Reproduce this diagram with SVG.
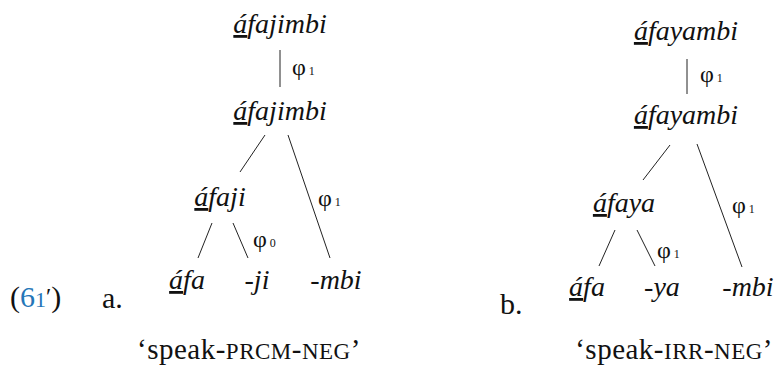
<svg xmlns="http://www.w3.org/2000/svg" width="776" height="371" viewBox="0 0 776 371">
<style>
.w{font-family:"Liberation Serif","DejaVu Serif",serif;font-style:italic;font-size:28px;fill:#111;text-anchor:middle}
.u{text-decoration:underline;text-decoration-thickness:1px;text-underline-offset:2px}
.p{font-family:"Liberation Serif",serif;font-size:24px;fill:#111}
.s{font-size:12px}
.t{font-family:"Liberation Serif",serif;font-size:30px;fill:#111}
.g{font-family:"Liberation Serif",serif;font-size:29px;fill:#111;letter-spacing:0.5px}
.sc{font-size:23px}
.e{stroke:#222;stroke-width:1;fill:none}
</style>
<g id="label">
<text class="t" x="10" y="307">(<tspan fill="#2476b8">6<tspan font-size="22">1</tspan></tspan><tspan font-size="24" dy="-3">′</tspan><tspan dy="3">)</tspan></text>
<text class="t" x="102" y="308">a.</text>
<text class="t" x="500" y="314">b.</text>
</g>
<g id="edges">
<line class="e" x1="280" y1="50" x2="280" y2="87"/>
<line class="e" x1="265" y1="135" x2="240" y2="172"/>
<line class="e" x1="288" y1="135" x2="330" y2="258"/>
<line class="e" x1="212" y1="223" x2="198" y2="258"/>
<line class="e" x1="233" y1="223" x2="248" y2="258"/>
<line class="e" x1="687" y1="59" x2="687" y2="94"/>
<line class="e" x1="670" y1="145" x2="643" y2="180"/>
<line class="e" x1="697" y1="144" x2="742" y2="267"/>
<line class="e" x1="615" y1="230" x2="599" y2="266"/>
<line class="e" x1="637" y1="230" x2="655" y2="266"/>
</g>
<g id="edge-labels">
<text class="p" x="292" y="75">φ<tspan class="s" dx="3">1</tspan></text>
<text class="p" x="318" y="206">φ<tspan class="s" dx="3">1</tspan></text>
<text class="p" x="253" y="247">φ<tspan class="s" dx="3">0</tspan></text>
<text class="p" x="700" y="82">φ<tspan class="s" dx="3">1</tspan></text>
<text class="p" x="732" y="213">φ<tspan class="s" dx="3">1</tspan></text>
<text class="p" x="657" y="258">φ<tspan class="s" dx="3">1</tspan></text>
</g>
<g id="a-root"><text class="w" x="280" y="33"><tspan class="u">á</tspan>fajimbi</text></g>
<g id="a-stem"><text class="w" x="280" y="120"><tspan class="u">á</tspan>fajimbi</text></g>
<g id="a-afaji"><text class="w" x="220" y="206"><tspan class="u">á</tspan>faji</text></g>
<g id="a-afa"><text class="w" x="187" y="289"><tspan class="u">á</tspan>fa</text></g>
<g id="a-ji"><text class="w" x="257" y="289">-ji</text></g>
<g id="a-mbi"><text class="w" x="336" y="289">-mbi</text></g>
<g id="b-root"><text class="w" x="686" y="40"><tspan class="u">á</tspan>fayambi</text></g>
<g id="b-stem"><text class="w" x="686" y="124"><tspan class="u">á</tspan>fayambi</text></g>
<g id="b-afaya"><text class="w" x="624" y="212"><tspan class="u">á</tspan>faya</text></g>
<g id="b-afa"><text class="w" x="587" y="296"><tspan class="u">á</tspan>fa</text></g>
<g id="b-ya"><text class="w" x="662" y="296">-ya</text></g>
<g id="b-mbi"><text class="w" x="748" y="296">-mbi</text></g>
<g id="glosses">
<text class="g" x="137" y="359">‘speak-<tspan class="sc">PRCM</tspan>-<tspan class="sc">NEG</tspan>’</text>
<text class="g" x="773" y="359" text-anchor="end">‘speak-<tspan class="sc">IRR</tspan>-<tspan class="sc">NEG</tspan>’</text>
</g>
</svg>
